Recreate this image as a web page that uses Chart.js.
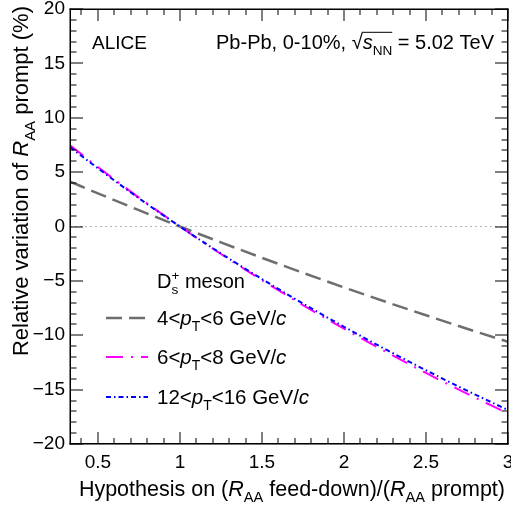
<!DOCTYPE html>
<html>
<head>
<meta charset="UTF-8">
<title>Ds feed-down hypothesis</title>
<style>
  body { margin: 0; padding: 0; background: #fff; }
  #wrap { width: 511px; height: 507px; }
</style>
</head>
<body>
<div id="wrap"><canvas id="chart" width="511" height="507"></canvas></div>
<script src="https://cdn.jsdelivr.net/npm/chart.js"></script>
<script>
// hypothesis on (RAA feed-down)/(RAA prompt)
const hypothesis = [0.33, 0.5, 0.75, 1, 1.25, 1.5, 1.75, 2, 2.25, 2.5, 2.75, 3];
// relative variation of RAA prompt (%) for each pT bin
const pt4to6 = [4.13, 3.05, 1.50, 0, -1.46, -2.88, -4.26, -5.60, -6.90, -8.16, -9.40, -10.60];
const pt6to8 = [7.47, 5.47, 2.66, 0, -2.53, -4.93, -7.22, -9.40, -11.48, -13.47, -15.37, -17.19];
const pt12to16 = [7.30, 5.35, 2.60, 0, -2.48, -4.83, -7.08, -9.22, -11.26, -13.22, -15.09, -16.88];

const xRange = [0.33, 3];
const yRange = [-20, 20];

const FONT = '"Liberation Sans", Arial, Helvetica, sans-serif';

function toPoints(vals) {
    return hypothesis.map((h, i) => ({ x: h, y: vals[i] }));
}

// small rich-text helper: parts are {t, it} or {sub, sup} (sub/sup stacked), bar = overline
function partFont(it, size) {
    return (it ? 'italic ' : '') + size + 'px ' + FONT;
}
function partWidth(ctx, p, size) {
    if (p.t !== undefined) {
        ctx.font = partFont(p.it, size);
        return ctx.measureText(p.t).width;
    }
    const s = size * 0.68;
    ctx.font = partFont(false, s);
    const a = p.sub ? ctx.measureText(p.sub).width : 0;
    const b = p.sup ? ctx.measureText(p.sup).width : 0;
    return Math.max(a, b);
}
function drawRich(ctx, parts, x, y, size, align) {
    const widths = parts.map(p => partWidth(ctx, p, size));
    const total = widths.reduce((a, b) => a + b, 0);
    let cx = align === 'right' ? x - total : (align === 'center' ? x - total / 2 : x);
    let barStart = null, barEnd = null;
    ctx.textAlign = 'left';
    ctx.textBaseline = 'alphabetic';
    parts.forEach((p, i) => {
        if (p.t !== undefined) {
            ctx.font = partFont(p.it, size);
            ctx.fillText(p.t, cx, y);
        } else {
            ctx.font = partFont(false, size * 0.68);
            if (p.sub) ctx.fillText(p.sub, cx, y + size * 0.3);
            if (p.sup) ctx.fillText(p.sup, cx, y - size * 0.42);
        }
        if (p.bar) {
            if (barStart === null) barStart = cx;
            barEnd = cx + widths[i];
        }
        cx += widths[i];
    });
    if (barStart !== null) {
        ctx.fillRect(barStart - 1, y - size * 0.86, barEnd - barStart + 1, 1);
    }
}

const series = [
    { label: '4<pT<6', parts: [{ t: '4<' }, { t: 'p', it: true }, { sub: 'T' }, { t: '<6 GeV/' }, { t: 'c', it: true }],
      data: pt4to6, color: '#6e6e6e', width: 2.5, dash: [16, 7], order: 2 },
    { label: '6<pT<8', parts: [{ t: '6<' }, { t: 'p', it: true }, { sub: 'T' }, { t: '<8 GeV/' }, { t: 'c', it: true }],
      data: pt6to8, color: '#ff00ff', width: 2, dash: [17, 8, 2, 8], order: 1 },
    { label: '12<pT<16', parts: [{ t: '12<' }, { t: 'p', it: true }, { sub: 'T' }, { t: '<16 GeV/' }, { t: 'c', it: true }],
      data: pt12to16, color: '#0000ff', width: 2, dash: [5, 3, 1.5, 3], order: 0 }
];

// frame + inward ticks on all four sides (ROOT look), drawn as thin rects
function drawFrame(chart) {
    const ctx = chart.ctx;
    const a = chart.chartArea;
    const x = chart.scales.x, y = chart.scales.y;
    const l = a.left, r = a.right, t = a.top, b = a.bottom;
    ctx.save();
    ctx.fillStyle = '#000';
    ctx.fillRect(l - 0.5, t - 0.5, r - l + 1, 1.5);
    ctx.fillRect(l - 0.5, b - 1, r - l + 1, 1.5);
    ctx.fillRect(l - 0.5, t - 0.5, 1.5, b - t + 1);
    ctx.fillRect(r - 1, t - 0.5, 1.5, b - t + 1);
    for (let i = 4; i <= 30; i++) {
        const v = i / 10;
        if (v < xRange[0]) continue;
        const px = Math.round(x.getPixelForValue(v));
        const len = i % 5 === 0 ? 12 : 6;
        ctx.fillRect(px - 0.5, b - len, 1, len);
        ctx.fillRect(px - 0.5, t, 1, len);
    }
    for (let v = yRange[0]; v <= yRange[1]; v++) {
        const py = Math.round(y.getPixelForValue(v));
        const len = v % 5 === 0 ? 13 : 6.5;
        ctx.fillRect(l, py - 0.5, len, 1);
        ctx.fillRect(r - len, py - 0.5, len, 1);
    }
    ctx.restore();
}

function drawTexts(chart) {
    const ctx = chart.ctx;
    ctx.save();
    ctx.fillStyle = '#000';

    // header texts
    drawRich(ctx, [{ t: 'ALICE' }], 92, 49, 19, 'left');
    drawRich(ctx, [{ t: 'Pb-Pb, 0-10%, ' }, { t: '\u221A' }, { t: 's', it: true, bar: true }, { sub: 'NN', bar: true },
                   { t: ' = 5.02 TeV' }], 494, 49, 20, 'right');

    // axis titles
    drawRich(ctx, [{ t: 'Hypothesis on (' }, { t: 'R', it: true }, { sub: 'AA' }, { t: ' feed-down)/(' },
                   { t: 'R', it: true }, { sub: 'AA' }, { t: ' prompt)' }], 505, 496, 21.5, 'right');
    ctx.save();
    ctx.translate(28, 6);
    ctx.rotate(-Math.PI / 2);
    drawRich(ctx, [{ t: 'Relative variation of ' }, { t: 'R', it: true }, { sub: 'AA' }, { t: ' prompt (%)' }],
             0, 0, 22, 'right');
    ctx.restore();

    // legend
    drawRich(ctx, [{ t: 'D' }, { sub: 's', sup: '+' }, { t: ' meson' }], 157, 288, 20, 'left');
    const rows = [318, 357, 397];
    series.forEach((s, i) => {
        ctx.save();
        ctx.strokeStyle = s.color;
        ctx.lineWidth = s.width;
        ctx.setLineDash(s.dash);
        ctx.beginPath();
        ctx.moveTo(106, rows[i]);
        ctx.lineTo(148, rows[i]);
        ctx.stroke();
        ctx.restore();
        drawRich(ctx, s.parts, 157, rows[i] + 7, 20.5, 'left');
    });
    ctx.restore();
}

const rootDecor = {
    id: 'rootDecor',
    afterDraw(chart) {
        drawTexts(chart);
        drawFrame(chart);
    }
};

const datasets = series.map(s => ({
    label: s.label,
    data: toPoints(s.data),
    borderColor: s.color,
    borderWidth: s.width,
    borderDash: s.dash,
    pointRadius: 0,
    fill: false,
    cubicInterpolationMode: 'monotone',
    order: s.order
}));
datasets.push({
    label: 'zero',
    data: [{ x: xRange[0], y: 0 }, { x: xRange[1], y: 0 }],
    borderColor: '#b4b4b4',
    borderWidth: 1,
    borderDash: [2, 3],
    pointRadius: 0,
    fill: false,
    order: 3
});

const tickFont = { family: FONT, size: 19, lineHeight: 1 };

new Chart(document.getElementById('chart'), {
    type: 'line',
    data: { datasets: datasets },
    options: {
        responsive: false,
        animation: false,
        layout: { padding: { top: 9, right: 3, left: 0, bottom: 0 } },
        plugins: { legend: { display: false }, tooltip: { enabled: false } },
        scales: {
            x: {
                type: 'linear',
                min: xRange[0],
                max: xRange[1],
                grid: { display: false, drawTicks: false },
                ticks: {
                    stepSize: 0.5,
                    includeBounds: false,
                    autoSkip: false,
                    maxRotation: 0,
                    padding: 9,
                    color: '#000',
                    font: tickFont,
                    callback: v => String(v)
                },
                afterFit(s) { s.height = 63; s.paddingLeft = 0; s.paddingRight = 0; }
            },
            y: {
                type: 'linear',
                min: yRange[0],
                max: yRange[1],
                grid: { display: false, drawTicks: false },
                ticks: {
                    stepSize: 5,
                    padding: 5,
                    color: '#000',
                    font: tickFont,
                    callback: v => String(v).replace('-', '\u2212')
                },
                afterFit(s) { s.width = 70; s.paddingTop = 0; s.paddingBottom = 0; }
            }
        }
    },
    plugins: [rootDecor]
});
</script>
</body>
</html>
